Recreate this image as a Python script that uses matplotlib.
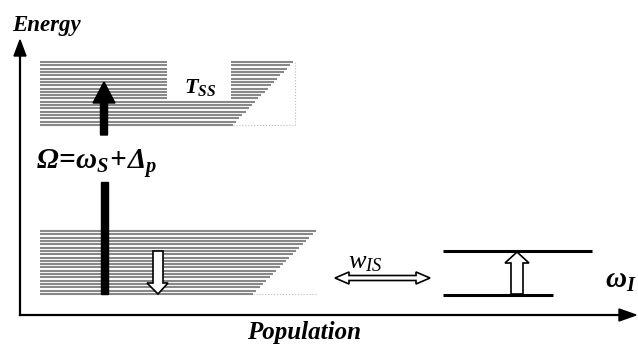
import numpy as np
import matplotlib
matplotlib.use("Agg")
import matplotlib.pyplot as plt
from matplotlib.patches import Polygon

plt.rcParams['mathtext.fontset'] = 'custom'
plt.rcParams['mathtext.rm'] = 'Liberation Serif:bold:italic'
plt.rcParams['mathtext.it'] = 'Liberation Serif:bold:italic'
plt.rcParams['mathtext.bf'] = 'Liberation Serif:bold:italic'
plt.rcParams['mathtext.sf'] = 'Liberation Serif:italic'

# ---- schematic data (pixel-like layout units) ----
upper_band_top, upper_band_bottom = 62, 125
upper_band_left = 40
upper_band_right_top, upper_band_right_bottom = 293, 233
upper_gap_x = [167, 231]      # gap where T_SS label sits
upper_gap_ymax = 100
n_upper_lines = 20

lower_band_top, lower_band_bottom = 231, 294
lower_band_left = 40
lower_band_right_top, lower_band_right_bottom = 316, 253
n_lower_lines = 20

spin_levels_y = [251, 295]
spin_levels_x = [[443, 592], [443, 553]]

labels = {
    "energy": "Energy",
    "population": "Population",
    "tss": r"$T_{SS}$",
    "omega": r"$\Omega\!=\!\omega_S\!+\!\Delta_p$",
    "wis": r"$\mathsf{w}_{\mathsf{IS}}$",
    "omegaI": r"$\omega_I$",
}

W, H = 638, 348
fig = plt.figure(figsize=(W / 100, H / 100), dpi=100)
ax = fig.add_axes([0, 0, 1, 1])
ax.set_xlim(0, W)
ax.set_ylim(H, 0)
ax.axis("off")

gray = "#888888"
LW = 1.5

# upper band
ys = np.linspace(upper_band_top, upper_band_bottom, n_upper_lines)
for y in ys:
    frac = (y - upper_band_top) / (upper_band_bottom - upper_band_top)
    xr = upper_band_right_top + frac * (upper_band_right_bottom - upper_band_right_top)
    if y < upper_gap_ymax:
        ax.plot([upper_band_left, upper_gap_x[0]], [y, y], color=gray, lw=LW, solid_capstyle="butt")
        ax.plot([upper_gap_x[1], xr], [y, y], color=gray, lw=LW, solid_capstyle="butt")
    else:
        ax.plot([upper_band_left, xr], [y, y], color=gray, lw=LW, solid_capstyle="butt")
ax.plot([upper_band_right_bottom, 295], [upper_band_bottom, upper_band_bottom], color="#bbbbbb", lw=0.8, ls=":")
ax.plot([295, 295], [upper_band_top, upper_band_bottom], color="#bbbbbb", lw=0.8, ls=":")

# lower band
ys = np.linspace(lower_band_top, lower_band_bottom, n_lower_lines)
for y in ys:
    frac = (y - lower_band_top) / (lower_band_bottom - lower_band_top)
    xr = lower_band_right_top + frac * (lower_band_right_bottom - lower_band_right_top)
    ax.plot([lower_band_left, xr], [y, y], color=gray, lw=LW, solid_capstyle="butt")
ax.plot([lower_band_right_bottom, lower_band_right_top], [lower_band_bottom, lower_band_bottom],
        color="#bbbbbb", lw=0.8, ls=":")

Z = 5
# axes arrows
ax.plot([20, 20], [315, 52], color="black", lw=1.6, zorder=Z)
ax.add_patch(Polygon([[20, 40], [14, 56], [26, 56]], closed=True, fc="black", ec="black", zorder=Z))
ax.plot([20, 622], [315, 315], color="black", lw=1.6, zorder=Z)
ax.add_patch(Polygon([[636, 315], [619, 309], [619, 321]], closed=True, fc="black", ec="black", zorder=Z))

# thick black pump arrow (two segments)
ax.add_patch(Polygon([[100.5, 182], [107.5, 182], [107.5, 294], [100.5, 294]], closed=True,
                     fc="black", ec="black", zorder=Z))
ax.add_patch(Polygon([[100.5, 135], [100.5, 103], [93, 103], [104, 82], [115, 103],
                      [107.5, 103], [107.5, 135]], closed=True, fc="black", ec="black", zorder=Z))

# hollow down arrow
ax.add_patch(Polygon([[153, 251], [163, 251], [163, 283], [168, 283], [158, 294],
                      [147, 283], [153, 283]], closed=True, fc="white", ec="black", lw=1.2, zorder=Z))

# spin levels
for y, (x0, x1) in zip(spin_levels_y, spin_levels_x):
    ax.plot([x0, x1], [y, y], color="black", lw=2.2, solid_capstyle="butt")

# hollow up arrow
ax.add_patch(Polygon([[511, 294], [511, 263], [505, 263], [517, 252], [529, 263],
                      [523, 263], [523, 294]], closed=True, fc="white", ec="black", lw=1.2, zorder=Z))

# double arrow w_IS
ax.add_patch(Polygon([[335, 278], [349, 272], [349, 275.5], [416, 275.5], [416, 272],
                      [430, 278], [416, 284], [416, 280.5], [349, 280.5], [349, 284]],
                     closed=True, fc="white", ec="black", lw=1.2, zorder=Z))

# texts
ax.text(12, 25, labels["energy"], fontfamily="Liberation Serif", fontweight="bold",
        fontstyle="italic", fontsize=16.5, va="center", ha="left")
ax.text(304, 333, labels["population"], fontfamily="Liberation Serif", fontweight="bold",
        fontstyle="italic", fontsize=18, va="center", ha="center")
ax.text(184, 88, labels["tss"], fontsize=16, va="center", ha="left")
ax.text(36, 163, labels["omega"], fontsize=21, va="center", ha="left")
ax.text(348, 261, labels["wis"], fontsize=19, va="center", ha="left")
ax.text(605, 280, labels["omegaI"], fontsize=21, va="center", ha="left")

fig.savefig("out.png", dpi=100)
